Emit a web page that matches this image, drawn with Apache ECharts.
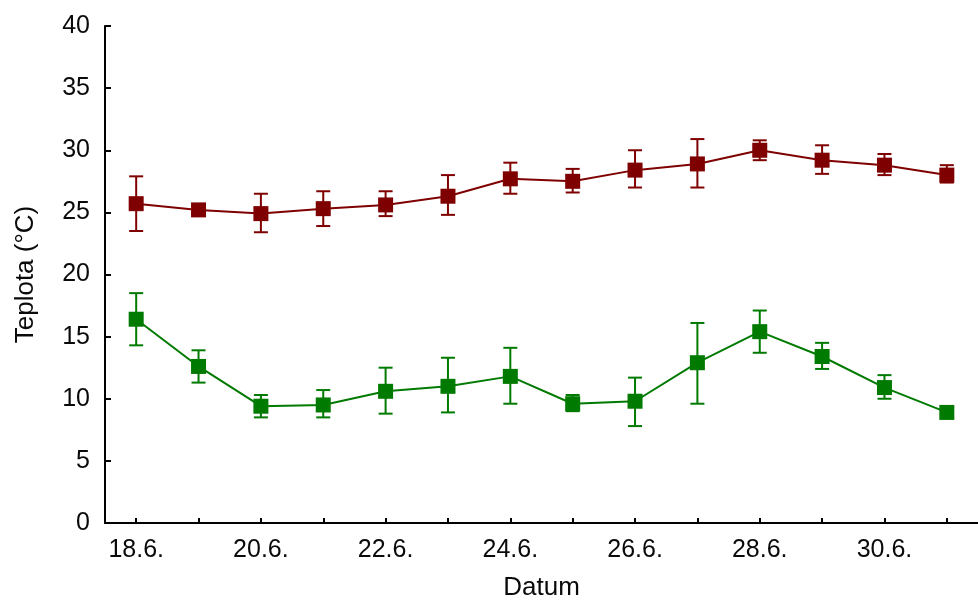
<!DOCTYPE html>
<html>
<head>
<meta charset="utf-8">
<script src="https://cdn.jsdelivr.net/npm/echarts@6/dist/echarts.min.js"></script>
<style>
  html, body { margin: 0; padding: 0; background: #fff; }
  #chart { width: 978px; height: 610px; }
</style>
</head>
<body>
<div id="chart"></div>
<script>
// Daily dates of the measurement period
const dates = ['18.6.', '19.6.', '20.6.', '21.6.', '22.6.', '23.6.', '24.6.',
               '25.6.', '26.6.', '27.6.', '28.6.', '29.6.', '30.6.', '1.7.'];

// Upper series (dark red): mean temperature with error range
const redMean  = [25.7, 25.2, 24.9, 25.3, 25.6, 26.3, 27.7, 27.5, 28.4, 28.9, 30.0, 29.2, 28.8, 28.0];
const redHigh  = [27.9, 25.45, 26.5, 26.7, 26.7, 28.0, 29.0, 28.5, 30.0, 30.9, 30.8, 30.4, 29.7, 28.8];
const redLow   = [23.5, 24.95, 23.4, 23.9, 24.7, 24.8, 26.5, 26.6, 27.0, 27.0, 29.2, 28.1, 28.0, 27.4];

// Lower series (green): mean temperature with error range
const greenMean = [16.4, 12.6, 9.4, 9.5, 10.6, 11.0, 11.8, 9.6, 9.8, 12.9, 15.4, 13.4, 10.9, 8.9];
const greenHigh = [18.5, 13.9, 10.3, 10.7, 12.5, 13.3, 14.1, 10.3, 11.7, 16.1, 17.1, 14.5, 11.9, 9.1];
const greenLow  = [14.3, 11.3, 8.5, 8.5, 8.8, 8.9, 9.6, 9.0, 7.8, 9.6, 13.7, 12.4, 10.0, 8.7];

// Y axis ticks
const yMin = 0, yMax = 40, yStep = 5;

const RED = '#7f0000';
const GREEN = '#007a00';
const FONT = 'Liberation Sans, Arial, sans-serif';
const TEXT = '#0a0a0a';

function errorData(low, high) {
  return low.map((l, i) => [i, l, high[i]]);
}

function errorBars(color) {
  return function (params, api) {
    const x = api.value(0);
    const lo = api.coord([x, api.value(1)]);
    const hi = api.coord([x, api.value(2)]);
    const half = 7;
    const style = { stroke: color, lineWidth: 2, fill: null };
    return {
      type: 'group',
      children: [
        { type: 'line', shape: { x1: hi[0], y1: hi[1], x2: lo[0], y2: lo[1] }, style },
        { type: 'line', shape: { x1: hi[0] - half, y1: hi[1], x2: hi[0] + half, y2: hi[1] }, style },
        { type: 'line', shape: { x1: lo[0] - half, y1: lo[1], x2: lo[0] + half, y2: lo[1] }, style }
      ]
    };
  };
}

const chart = echarts.init(document.getElementById('chart'), null, { renderer: 'canvas' });

chart.setOption({
  backgroundColor: '#fff',
  animation: false,
  grid: { left: 105, right: -6, top: 26, bottom: 87, containLabel: false },
  xAxis: {
    type: 'category',
    data: dates,
    boundaryGap: true,
    name: 'Datum',
    nameLocation: 'middle',
    nameGap: 52,
    nameTextStyle: { fontFamily: FONT, fontSize: 26, color: TEXT },
    axisLine: { lineStyle: { color: '#000', width: 2 } },
    axisTick: { show: true, inside: true, length: 5, interval: 0, alignWithLabel: true,
                lineStyle: { color: '#000', width: 2 } },
    axisLabel: { interval: 1, margin: 15, fontFamily: FONT, fontSize: 25, color: TEXT },
    splitLine: { show: false }
  },
  yAxis: {
    type: 'value',
    min: yMin,
    max: yMax,
    interval: yStep,
    name: 'Teplota (°C)',
    nameLocation: 'middle',
    nameGap: 66,
    nameTextStyle: { fontFamily: FONT, fontSize: 26, color: TEXT },
    axisLine: { show: true, lineStyle: { color: '#000', width: 2 } },
    axisTick: { show: true, inside: true, length: 6, lineStyle: { color: '#000', width: 2 } },
    axisLabel: { margin: 15, fontFamily: FONT, fontSize: 25, color: TEXT },
    splitLine: { show: false }
  },
  series: [
    {
      type: 'custom',
      renderItem: errorBars(RED),
      data: errorData(redLow, redHigh),
      encode: { x: 0, y: [1, 2] },
      z: 1,
      silent: true
    },
    {
      type: 'custom',
      renderItem: errorBars(GREEN),
      data: errorData(greenLow, greenHigh),
      encode: { x: 0, y: [1, 2] },
      z: 1,
      silent: true
    },
    {
      type: 'line',
      data: redMean,
      symbol: 'rect',
      symbolSize: 15,
      lineStyle: { color: RED, width: 2 },
      itemStyle: { color: RED },
      z: 3
    },
    {
      type: 'line',
      data: greenMean,
      symbol: 'rect',
      symbolSize: 15,
      lineStyle: { color: GREEN, width: 2 },
      itemStyle: { color: GREEN },
      z: 3
    }
  ]
});
</script>
</body>
</html>
